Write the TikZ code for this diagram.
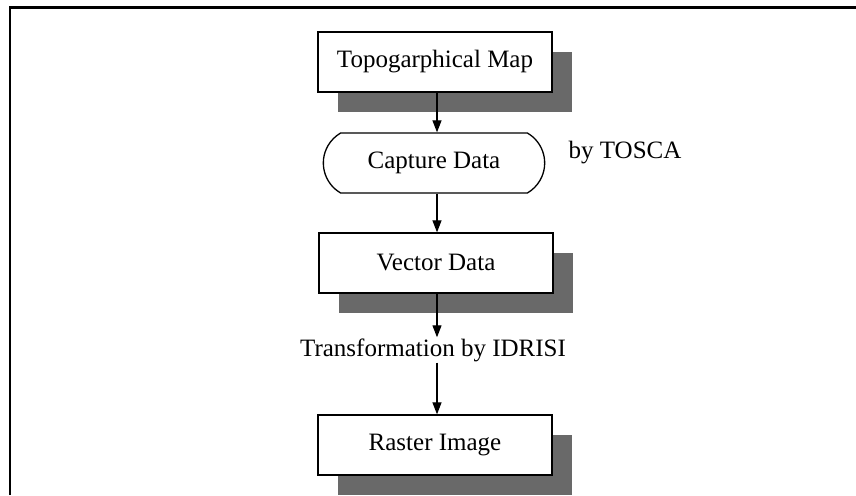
\documentclass[tikz,border=0pt]{standalone}
\usepackage{fontspec}
\setmainfont{Liberation Serif}
\usetikzlibrary{shapes.misc,shadows,arrows.meta}
\definecolor{S}{RGB}{105, 105, 105}

\tikzset{
  flowbox/.style={draw, line width=1.3pt, fill=white, minimum width=234pt, minimum height=60pt,
    font=\fontsize{25}{29}\selectfont,
    drop shadow={shadow xshift=20pt, shadow yshift=-20pt, opacity=1, fill=S}},
  flowarr/.style={line width=1.2pt, -{Triangle[length=12pt,width=9pt]}}
}

\begin{document}
\begin{tikzpicture}[x=1pt, y=-1pt]
  \useasboundingbox (0,0) rectangle (856,495);
  \draw[black, line width=2.5pt] (10,495) -- (10,7.5) -- (856,7.5);
  \coordinate (mid) at (437,0);
  % boxes
  \node[flowbox] (topo) at (435,62) {Topogarphical Map};
  \node[draw, line width=1.3pt, rounded rectangle, rounded rectangle arc length=120,
    minimum width=228pt, minimum height=60pt, font=\fontsize{25}{29}\selectfont] (cap) at (434,163) {Capture Data};
  \node[font=\fontsize{25}{29}\selectfont] (tosca) at (625,153) {by TOSCA};
  \node[flowbox] (vec) at (436,263) {Vector Data};
  \node[font=\fontsize{25}{29}\selectfont, inner sep=1pt] (trans) at (433,350) {Transformation by IDRISI};
  \node[flowbox] (ras) at (435,445) {Raster Image};
  % arrows
  \draw[flowarr] (topo.south -| mid) -- (cap.north -| mid);
  \draw[flowarr] (cap.south -| mid) -- (vec.north -| mid);
  \draw[flowarr] (vec.south -| mid) -- (trans.north -| mid);
  \draw[flowarr] (trans.south -| mid) -- (ras.north -| mid);
\end{tikzpicture}
\end{document}
